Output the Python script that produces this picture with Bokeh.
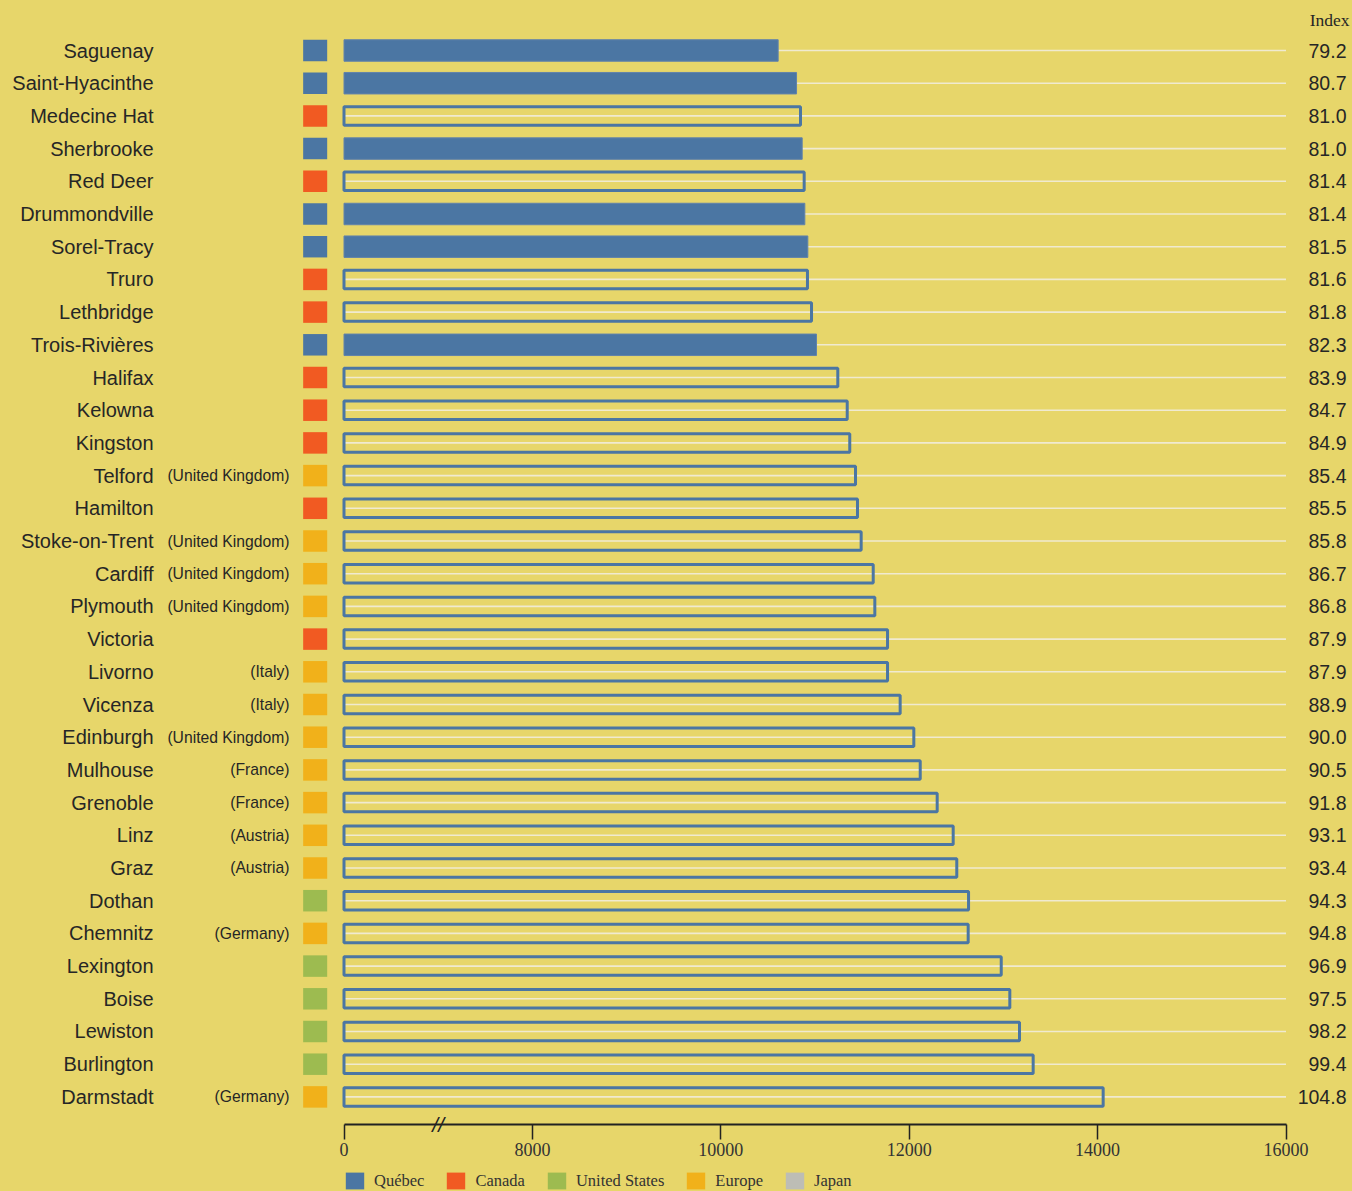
from bokeh.plotting import figure
from bokeh.models import (ColumnDataSource, Range1d, LinearAxis, FixedTicker,
                          Legend, LegendItem)
from bokeh.core.properties import value
from bokeh.embed import file_html
from bokeh.resources import INLINE

# ---------------- data ----------------
cities = ["Saguenay", "Saint-Hyacinthe", "Medecine Hat", "Sherbrooke", "Red Deer",
          "Drummondville", "Sorel-Tracy", "Truro", "Lethbridge", "Trois-Rivières",
          "Halifax", "Kelowna", "Kingston", "Telford", "Hamilton", "Stoke-on-Trent",
          "Cardiff", "Plymouth", "Victoria", "Livorno", "Vicenza", "Edinburgh",
          "Mulhouse", "Grenoble", "Linz", "Graz", "Dothan", "Chemnitz", "Lexington",
          "Boise", "Lewiston", "Burlington", "Darmstadt"]
countries = ["", "", "", "", "", "", "", "", "", "", "", "", "",
             "(United Kingdom)", "", "(United Kingdom)", "(United Kingdom)",
             "(United Kingdom)", "", "(Italy)", "(Italy)", "(United Kingdom)",
             "(France)", "(France)", "(Austria)", "(Austria)", "", "(Germany)",
             "", "", "", "", "(Germany)"]
regions = ["Québec", "Québec", "Canada", "Québec", "Canada", "Québec", "Québec",
           "Canada", "Canada", "Québec", "Canada", "Canada", "Canada", "Europe",
           "Canada", "Europe", "Europe", "Europe", "Canada", "Europe", "Europe",
           "Europe", "Europe", "Europe", "Europe", "Europe", "United States",
           "Europe", "United States", "United States", "United States",
           "United States", "Europe"]
index_values = [79.2, 80.7, 81.0, 81.0, 81.4, 81.4, 81.5, 81.6, 81.8, 82.3, 83.9,
                84.7, 84.9, 85.4, 85.5, 85.8, 86.7, 86.8, 87.9, 87.9, 88.9, 90.0,
                90.5, 91.8, 93.1, 93.4, 94.3, 94.8, 96.9, 97.5, 98.2, 99.4, 104.8]
costs = [10609, 10804, 10846, 10864, 10885, 10892, 10924, 10920, 10963, 11016,
         11242, 11342, 11369, 11430, 11451, 11490, 11618, 11635, 11770, 11770,
         11904, 12049, 12117, 12297, 12467, 12505, 12630, 12626, 12977, 13068,
         13171, 13316, 14059]
legend_regions = ["Québec", "Canada", "United States", "Europe", "Japan"]
region_colors = ["#4B76A3", "#F15A22", "#9DBB50", "#F1B11A", "#BDBDB5"]
axis_ticks = [6000, 8000, 10000, 12000, 14000, 16000]
axis_labels = ["0", "8000", "10000", "12000", "14000", "16000"]
axis_break_value = 7000  # the "0" tick stands for the start of a broken axis

# ---------------- style ----------------
BG = "#E7D66A"
BLUE = "#4B76A3"
TXT = "#262626"
GRID = "#F0EAD0"
SANS = "Liberation Sans"
SERIF = "Liberation Serif"
NAN = float("nan")

rows = list(range(len(cities)))

p = figure(width=1352, height=1191, output_backend="svg", toolbar_location=None,
           x_range=Range1d(2353.5, 16705.9), y_range=Range1d(34.893, -1.5291),
           x_axis_location=None, y_axis_location=None, min_border=0,
           background_fill_color=BG, border_fill_color=BG, outline_line_color=None)
p.xgrid.grid_line_color = None
p.ygrid.grid_line_color = None

# grid lines behind bars
grid_src = ColumnDataSource(dict(y=rows, x0=[axis_ticks[0]] * len(rows),
                                 x1=[axis_ticks[-1]] * len(rows)))
p.segment(x0="x0", x1="x1", y0="y", y1="y", source=grid_src,
          line_color=GRID, line_width=1.6)

# bars
q_idx = [i for i in rows if regions[i] == "Québec"]
o_idx = [i for i in rows if regions[i] != "Québec"]
q_src = ColumnDataSource(dict(y=[rows[i] for i in q_idx], right=[costs[i] for i in q_idx],
                              left=[axis_ticks[0]] * len(q_idx)))
o_src = ColumnDataSource(dict(y=[rows[i] for i in o_idx], right=[costs[i] for i in o_idx],
                              left=[axis_ticks[0]] * len(o_idx)))
p.hbar(y="y", left="left", right="right", height=0.657, source=q_src,
       fill_color=BLUE, line_color="#6283AA", line_width=1)
p.hbar(y="y", left="left", right="right", height=0.566, source=o_src,
       fill_color=None, line_color=BLUE, line_width=3)

# region squares
sq_x = 5694
sq_w = 255
legend_items = []
for reg, col in zip(legend_regions, region_colors):
    ids = [i for i in rows if regions[i] == reg]
    ys = [rows[i] for i in ids] or [NAN]
    src = ColumnDataSource(dict(y=ys, x=[sq_x] * len(ys)))
    r = p.rect(x="x", y="y", width=sq_w, height=0.657, source=src,
               fill_color=col, line_color=None)
    legend_items.append(LegendItem(label=reg, renderers=[r]))

# city names
name_src = ColumnDataSource(dict(y=rows, x=[3978] * len(rows), t=cities))
p.text(x="x", y="y", text="t", source=name_src, text_align="right",
       text_baseline="middle", text_font=value(SANS), text_font_size="20px",
       text_color=TXT)
country_src = ColumnDataSource(dict(y=rows, x=[5421] * len(rows), t=countries))
p.text(x="x", y="y", text="t", source=country_src, text_align="right",
       text_baseline="middle", text_font=value(SANS), text_font_size="15.7px",
       text_color=TXT)

# index values
idx_src = ColumnDataSource(dict(y=rows, x=[16642] * len(rows),
                                t=["%.1f" % v for v in index_values]))
p.text(x="x", y="y", text="t", source=idx_src, text_align="right",
       text_baseline="middle", text_font=value(SANS), text_font_size="19.5px",
       text_color=TXT)
p.text(x=[16674], y=[-0.93], text=["Index"], text_align="right",
       text_baseline="middle", text_font=value(SERIF), text_font_size="17.5px",
       text_color=TXT)

# axis
axis_y = 32.844
ax = LinearAxis(fixed_location=axis_y, bounds=(axis_ticks[0], axis_ticks[-1]),
                ticker=FixedTicker(ticks=axis_ticks),
                major_label_overrides={t: l for t, l in zip(axis_ticks, axis_labels)})
ax.axis_line_color = "#222222"
ax.axis_line_width = 2
ax.major_tick_line_color = "#222222"
ax.major_tick_line_width = 1.5
ax.major_tick_in = 0
ax.major_tick_out = 15
ax.minor_tick_line_color = None
ax.major_label_standoff = 4
ax.major_label_text_font = SERIF
ax.major_label_text_font_size = "18px"
ax.major_label_text_color = "#333333"
p.add_layout(ax, "below")

# axis break mark
p.text(x=[axis_break_value], y=[axis_y], text=["//"], text_align="center",
       text_baseline="middle", text_font=value(SANS), text_font_size="21px",
       text_color="#222222", text_font_style="italic")

legend = Legend(items=legend_items, orientation="horizontal", location=(343, 0),
                glyph_width=23, glyph_height=21, label_height=21,
                label_standoff=8, spacing=20, padding=0, margin=0,
                border_line_color=None, background_fill_alpha=0,
                label_text_font=SERIF, label_text_font_size="16.5px",
                label_text_color="#333333")
p.add_layout(legend)

html = file_html(p, INLINE)
html = html.replace("</head>", "<style>html,body{background:%s;}</style></head>" % BG, 1)
open("out.html", "w").write(html)
